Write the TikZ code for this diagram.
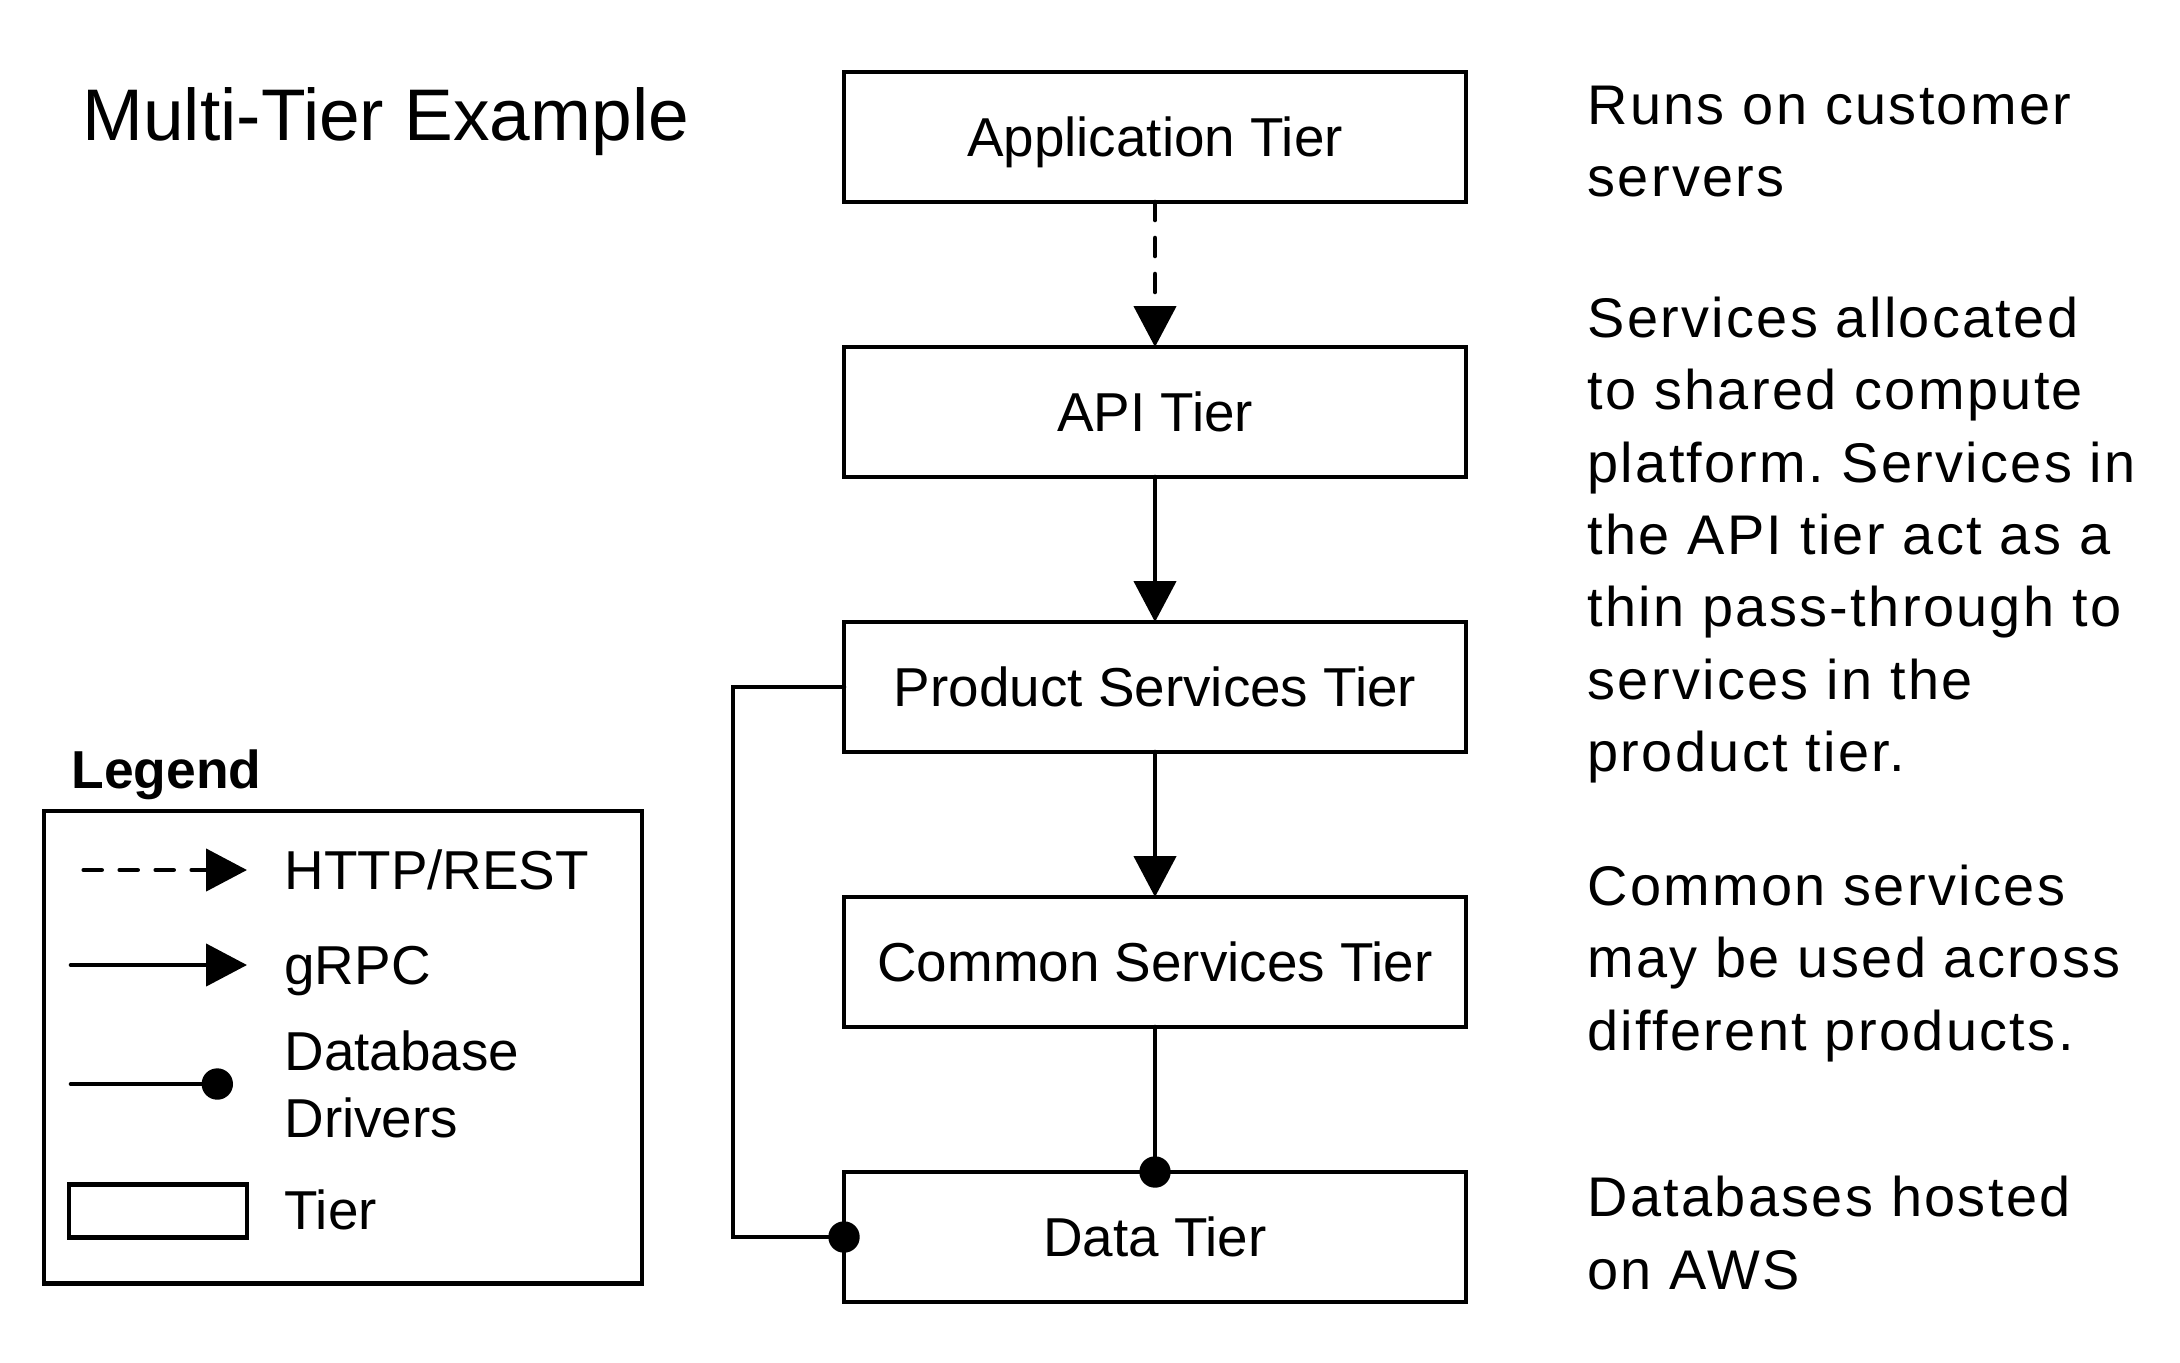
\documentclass[tikz,border=0pt]{standalone}
\usepackage{fontspec}
\setmainfont{Liberation Sans}
\newfontfamily\notefont[LetterSpace=4.2]{Liberation Sans}
\usetikzlibrary{arrows.meta}
\usetikzlibrary{positioning}
\frenchspacing

\tikzset{
  tier/.style={draw, line width=1.3pt, minimum width=6.22cm, minimum height=1.3cm,
    outer sep=0pt, inner sep=0pt, text height=0.396cm, text depth=0pt,
    font=\fontsize{15.6}{18.7}\selectfont},
  http/.style={line width=1.3pt, line cap=round, dash pattern=on 0.18cm off 0.18cm,
    -{Triangle[length=0.41cm,width=0.42cm]}},
  grpc/.style={line width=1.3pt, line cap=round, -{Triangle[length=0.41cm,width=0.42cm]}},
  dbline/.style={line width=1.3pt, line cap=round},
  dbdot/.style={circle, fill, inner sep=0pt, minimum size=0.314cm},
  note/.style={anchor=base west, align=left, font=\notefont\fontsize{15.9}{20.6}\selectfont},
  legtext/.style={anchor=base west, align=left, font=\fontsize{15.6}{18.8}\selectfont},
}

\begin{document}
\begin{tikzpicture}
    \useasboundingbox (0,0) rectangle (21.8,-13.62);

    \node[anchor=base west, font=\fontsize{20.8}{25}\selectfont] (title) at (0.70,-1.40) {Multi-Tier Example};

    % tiers
    \node[tier] (app) at (11.55,-1.37) {Application Tier};
    \node[tier, below=1.45cm of app] (api) {API Tier};
    \node[tier, below=1.45cm of api] (product) {Product Services Tier};
    \node[tier, below=1.45cm of product] (common) {Common Services Tier};
    \node[tier, below=1.45cm of common] (data) {Data Tier};

    \draw[http] (app) -- (api);
    \draw[grpc] (api) -- (product);
    \draw[grpc] (product) -- (common);
    \draw[dbline] (common) -- (data);
    \node[dbdot] (dbtop) at (data.north) {};
    \draw[dbline] (product.west) -- ++(-1.11,0) |- (data.west);
    \node[dbdot] (dbleft) at (data.west) {};

    % notes (base = last line)
    \node[note] (noteapp) at (15.75,-1.967) {Runs on customer\\servers};
    \node[note] (noteapi) at (15.75,-7.717) {Services allocated\\to shared compute\\platform. Services in\\the API tier act as a\\thin pass-through to\\services in the\\product tier.};
    \node[note] (notecommon) at (15.75,-10.50) {Common services\\may be used across\\different products.};
    \node[note] (notedata) at (15.75,-12.89) {Databases hosted\\on AWS};

    % legend
    \node[anchor=base west, font=\bfseries\fontsize{15.2}{18}\selectfont] (legtitle) at (0.59,-7.885) {Legend};
    \draw[line width=1.3pt] (0.44,-8.11) rectangle (6.42,-12.835);
    \coordinate (h1) at (0.837,-8.70);
    \coordinate (h2) at (2.47,-8.70);
    \draw[http] (h1) -- (h2);
    \node[legtext] (lhttp) at (2.72,-8.89) {HTTP/REST};
    \coordinate (g1) at (0.71,-9.65);
    \coordinate (g2) at (2.47,-9.65);
    \draw[grpc] (g1) -- (g2);
    \node[legtext] (lgrpc) at (2.72,-9.84) {gRPC};
    \coordinate (d1) at (0.71,-10.84);
    \node[dbdot] (d2) at (2.173,-10.84) {};
    \draw[dbline] (d1) -- (d2.center);
    \node[legtext] (ldb) at (2.72,-11.37) {Database\\Drivers};
    \node[draw, line width=1.3pt, minimum width=1.78cm, minimum height=0.525cm, inner sep=0pt, outer sep=0pt] (ltier) at (1.58,-12.11) {};
    \node[legtext] (ltiertext) at (2.72,-12.29) {Tier};
\end{tikzpicture}
\end{document}
